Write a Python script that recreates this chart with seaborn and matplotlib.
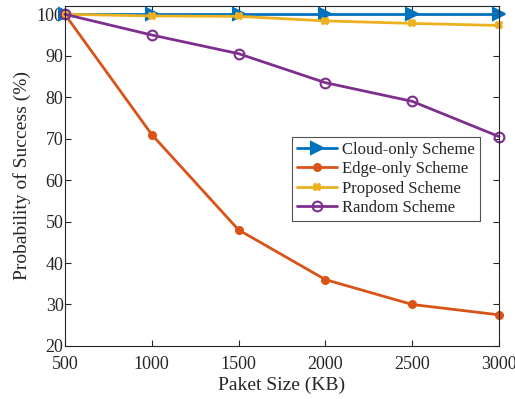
import matplotlib
matplotlib.use("Agg")
import matplotlib.pyplot as plt
import seaborn as sns
import pandas as pd

sns.set_theme(style="ticks")
plt.rcParams["font.family"] = ["Liberation Serif", "DejaVu Serif"]
plt.rcParams["mathtext.fontset"] = "stix"

packet_size = [500, 1000, 1500, 2000, 2500, 3000]
cloud_only = [100, 100, 100, 100, 100, 100]
edge_only = [100, 71, 48, 36, 30, 27.5]
proposed = [100, 99.6, 99.5, 98.4, 97.8, 97.3]
random_scheme = [100, 95, 90.5, 83.5, 79, 70.5]

series = {
    "Cloud-only Scheme": cloud_only,
    "Edge-only Scheme": edge_only,
    "Proposed Scheme": proposed,
    "Random Scheme": random_scheme,
}
df = pd.DataFrame(
    [(x, name, v) for name, vals in series.items() for x, v in zip(packet_size, vals)],
    columns=["size", "scheme", "value"],
)

colors = ["#0072BD", "#D95319", "#EDB120", "#7E2F8E"]
markers = {"Cloud-only Scheme": ">", "Edge-only Scheme": "o",
           "Proposed Scheme": "X", "Random Scheme": "o"}
msizes = {"Cloud-only Scheme": 8, "Edge-only Scheme": 5,
          "Proposed Scheme": 5, "Random Scheme": 7}

fig = plt.figure(figsize=(5.15, 3.99), dpi=100)
ax = fig.add_axes([0.126, 0.133, 0.843, 0.852])

for (name, vals), c in zip(series.items(), colors):
    sub = df[df["scheme"] == name]
    mfc = "none" if name == "Random Scheme" else c
    sns.lineplot(data=sub, x="size", y="value", ax=ax, color=c, lw=2,
                 marker=markers[name], markersize=msizes[name],
                 markerfacecolor=mfc, markeredgecolor=c, markeredgewidth=1.5,
                 label=name, clip_on=False)

ax.set_xlim(500, 3000)
ax.set_ylim(20, 102)
ax.set_xticks(packet_size)
ax.set_yticks(range(20, 101, 10))
ax.tick_params(direction="in", length=4, width=0.8, labelsize=13, colors="#262626",
               top=True, right=True)
ax.tick_params(axis="x", pad=7)
ax.tick_params(axis="y", pad=1)
for s in ax.spines.values():
    s.set_linewidth(0.8)
    s.set_color("#262626")
ax.set_xlabel("Paket Size (KB)", fontsize=14, color="#262626", labelpad=3)
ax.set_ylabel("Probability of Success (%)", fontsize=14, color="#262626", labelpad=4)

leg = ax.legend(loc="upper left", bbox_to_anchor=(0.523, 0.615), fontsize=12,
                frameon=True, fancybox=False, edgecolor="#262626",
                handlelength=2.4, handletextpad=0.3, borderpad=0.3,
                labelspacing=0.2, borderaxespad=0)
leg.get_frame().set_linewidth(0.8)

fig.savefig("out.png", dpi=100)
